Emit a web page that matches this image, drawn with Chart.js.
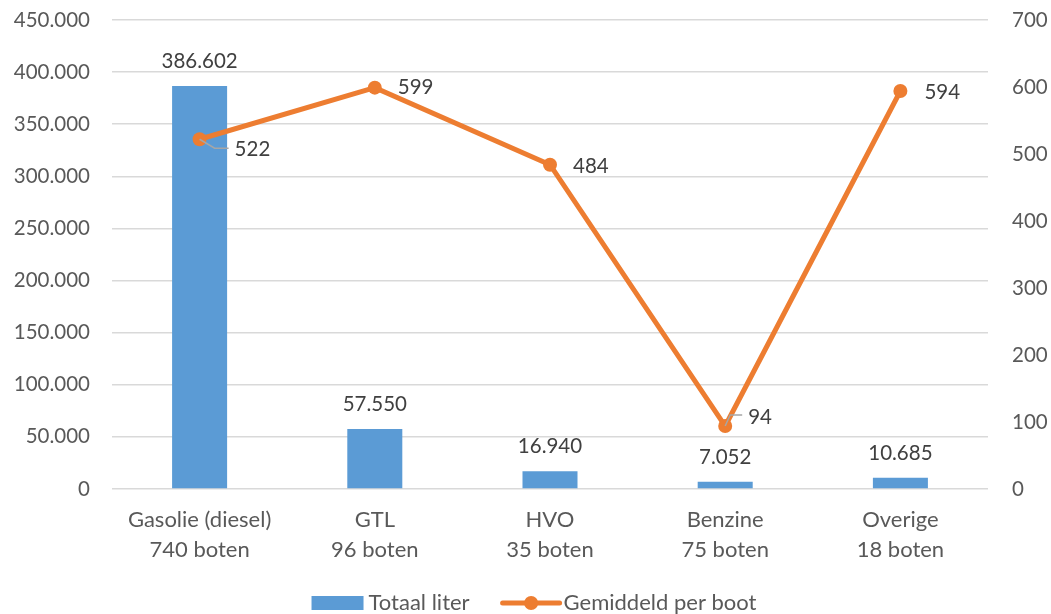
<!DOCTYPE html>
<html>
<head>
<meta charset="utf-8">
<script src="https://cdn.jsdelivr.net/npm/chart.js@4"></script>
<style>
  html, body { margin: 0; padding: 0; background: #fff; }
  #wrap { width: 1051px; height: 614px; }
</style>
</head>
<body>
<div id="wrap"><canvas id="c" width="1051" height="614"></canvas></div>
<script>
const categories = [["Gasolie (diesel)", "740 boten"], ["GTL", "96 boten"], ["HVO", "35 boten"], ["Benzine", "75 boten"], ["Overige", "18 boten"]];
const totaalLiter = [386602, 57550, 16940, 7052, 10685];
const gemiddeldPerBoot = [522, 599, 484, 94, 594];
const seriesNames = ["Totaal liter", "Gemiddeld per boot"];

const FONT = "Lato, 'Liberation Sans', sans-serif";
const BLUE = "#5B9BD5";
const ORANGE = "#ED7D31";
const TICK = "#595959";
const LABEL = "#404040";
const GRID = "#D9D9D9";
const NUM_SIZE = 20.5;
const TXT_SIZE = 22;

function fmt(v) {
  return String(Math.round(v)).replace(/\B(?=(\d{3})+(?!\d))/g, ".");
}

const labelPlugin = {
  id: "valueLabels",
  afterDatasetsDraw(chart, args, opts) {
    const ctx = chart.ctx;
    ctx.save();
    ctx.font = NUM_SIZE + "px " + FONT;
    ctx.fillStyle = LABEL;
    const barMeta = chart.getDatasetMeta(0);
    barMeta.data.forEach((el, i) => {
      ctx.textAlign = "center";
      ctx.textBaseline = "alphabetic";
      ctx.fillText(fmt(chart.data.datasets[0].data[i]), el.x, el.y - 18);
    });
    const lineMeta = chart.getDatasetMeta(1);
    lineMeta.data.forEach((el, i) => {
      const off = (opts.lineOffsets && opts.lineOffsets[i]) || { dx: 23, dy: 0 };
      const tx = el.x + off.dx, ty = el.y + off.dy;
      if (off.leader) {
        ctx.strokeStyle = "#A6A6A6";
        ctx.lineWidth = 1.5;
        ctx.beginPath();
        ctx.moveTo(el.x, el.y);
        const midX = el.x + (off.dy > 0 ? 15 : 5);
        ctx.lineTo(midX, ty - (off.dy > 0 ? 1 : 2));
        ctx.lineTo(tx - 6, ty - (off.dy > 0 ? 1 : 2));
        ctx.stroke();
      }
      ctx.fillStyle = LABEL;
      ctx.textAlign = "left";
      ctx.textBaseline = "middle";
      ctx.fillText(String(chart.data.datasets[1].data[i]), tx, ty);
    });
    ctx.restore();
  }
};

const legendPlugin = {
  id: "customLegend",
  afterDraw(chart) {
    const ctx = chart.ctx;
    ctx.save();
    ctx.font = TXT_SIZE + "px " + FONT;
    const t1 = chart.data.datasets[0].label, t2 = chart.data.datasets[1].label;
    const w1 = ctx.measureText(t1).width, w2 = ctx.measureText(t2).width;
    const total = 52 + 5 + w1 + 33 + 57 + 4 + w2;
    let x = 534 - total / 2;
    const cy = 603;
    ctx.fillStyle = BLUE;
    ctx.fillRect(x, cy - 7, 52, 14);
    x += 57;
    ctx.fillStyle = TICK;
    ctx.textBaseline = "middle";
    ctx.textAlign = "left";
    ctx.fillText(t1, x, cy);
    x += w1 + 33;
    ctx.strokeStyle = ORANGE;
    ctx.lineWidth = 5;
    ctx.lineCap = "round";
    ctx.beginPath();
    ctx.moveTo(x, cy);
    ctx.lineTo(x + 57, cy);
    ctx.stroke();
    ctx.fillStyle = ORANGE;
    ctx.beginPath();
    ctx.arc(x + 28.5, cy, 7, 0, Math.PI * 2);
    ctx.fill();
    x += 61;
    ctx.fillStyle = TICK;
    ctx.fillText(t2, x, cy);
    ctx.restore();
  }
};

function noPad(s) {
  s.paddingTop = 0; s.paddingBottom = 0; s.paddingLeft = 0; s.paddingRight = 0;
}

new Chart(document.getElementById("c"), {
  data: {
    labels: categories,
    datasets: [
      {
        type: "bar",
        label: seriesNames[0],
        data: totaalLiter,
        yAxisID: "y",
        backgroundColor: BLUE,
        categoryPercentage: 1,
        barPercentage: 0.314,
        order: 2
      },
      {
        type: "line",
        label: seriesNames[1],
        data: gemiddeldPerBoot,
        yAxisID: "y1",
        borderColor: ORANGE,
        backgroundColor: ORANGE,
        borderWidth: 5,
        pointRadius: 7,
        pointBackgroundColor: ORANGE,
        pointBorderWidth: 0,
        tension: 0,
        order: 1
      }
    ]
  },
  options: {
    responsive: false,
    animation: false,
    layout: { padding: { top: 20, left: 0, right: 0, bottom: 0 } },
    plugins: {
      legend: { display: false },
      tooltip: { enabled: false },
      valueLabels: {
        lineOffsets: [
          { dx: 35, dy: 10, leader: true },
          { dx: 23, dy: 0 },
          { dx: 23, dy: 2 },
          { dx: 23, dy: -9, leader: true },
          { dx: 24, dy: 1 }
        ]
      }
    },
    scales: {
      x: {
        grid: { display: false, drawTicks: false },
        border: { display: false },
        ticks: {
          color: TICK,
          font: { family: FONT, size: TXT_SIZE, lineHeight: 1.36 },
          padding: 16,
          maxRotation: 0,
          autoSkip: false
        },
        afterFit(s) { s.height = 125; noPad(s); }
      },
      y: {
        position: "left",
        min: 0,
        max: 450000,
        grid: { color: GRID, lineWidth: 1.5, drawTicks: false },
        border: { display: false },
        ticks: {
          stepSize: 50000,
          color: TICK,
          font: { family: FONT, size: NUM_SIZE },
          padding: 22,
          callback: (v) => fmt(v)
        },
        afterFit(s) { s.width = 112; noPad(s); }
      },
      y1: {
        position: "right",
        min: 0,
        max: 700,
        grid: { display: false, drawTicks: false },
        border: { display: false },
        ticks: {
          stepSize: 100,
          color: TICK,
          font: { family: FONT, size: NUM_SIZE },
          padding: 24,
          callback: (v) => String(v)
        },
        afterFit(s) { s.width = 63; noPad(s); }
      }
    }
  },
  plugins: [labelPlugin, legendPlugin]
});
</script>
</body>
</html>
